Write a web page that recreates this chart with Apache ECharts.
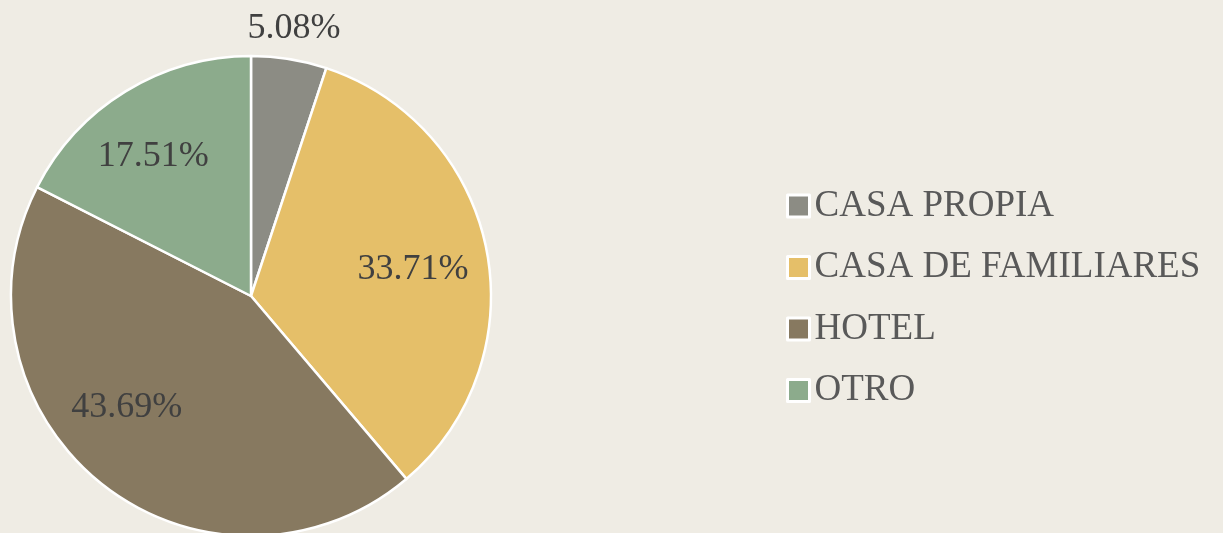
<!DOCTYPE html>
<html>
<head>
<meta charset="utf-8">
<script src="https://cdn.jsdelivr.net/npm/echarts@6/dist/echarts.min.js"></script>
<style>
  html, body { margin: 0; padding: 0; background: #efece4; }
  #chart { width: 1223px; height: 533px; }
</style>
</head>
<body>
<div id="chart"></div>
<script>
// datos
var categorias = ['CASA PROPIA', 'CASA DE FAMILIARES', 'HOTEL', 'OTRO'];
var porcentajes = [5.08, 33.71, 43.69, 17.51];
var colores = ['#8c8c84', '#e5bf69', '#877960', '#8cab8c'];

var fuente = '"Liberation Serif", "DejaVu Serif", serif';

// pequeños ajustes de las etiquetas internas (como en Excel)
var ajusteX = [0, -3, -20, -10];
var ajusteY = [0, 6, -20, 4];

var pieData = categorias.map(function (c, i) {
    return { name: c, value: porcentajes[i], itemStyle: { color: colores[i] } };
});

// series transparentes solo para colocar las etiquetas
function labelData(mostrar) {
    return categorias.map(function (c, i) {
        return {
            name: c,
            value: porcentajes[i],
            label: { show: mostrar(i) }
        };
    });
}

var labelStyle = {
    position: 'inside',
    formatter: function (p) { return p.value.toFixed(2) + '%'; },
    color: '#404040',
    fontFamily: fuente,
    fontSize: 36
};

var chart = echarts.init(document.getElementById('chart'));
chart.setOption({
    backgroundColor: '#efece4',
    animation: false,
    legend: {
        orient: 'vertical',
        left: 781,
        top: 179,
        itemWidth: 22,
        itemHeight: 22,
        itemGap: 17.5,
        icon: 'rect',
        itemStyle: { borderColor: '#ffffff', borderWidth: 3 },
        textStyle: { fontFamily: fuente, fontSize: 37, color: '#595959', lineHeight: 44 },
        data: categorias
    },
    series: [
        {
            type: 'pie',
            center: [251, 296],
            radius: [0, 240],
            startAngle: 90,
            clockwise: true,
            label: { show: false },
            labelLine: { show: false },
            itemStyle: { borderColor: '#ffffff', borderWidth: 2.5 },
            data: pieData
        },
        {
            type: 'pie',
            center: [251, 296],
            radius: [90, 240],
            startAngle: 90,
            silent: true,
            legendHoverLink: false,
            itemStyle: { color: 'rgba(0,0,0,0)' },
            label: labelStyle,
            labelLine: { show: false },
            labelLayout: function (p) {
                return { dx: ajusteX[p.dataIndex], dy: ajusteY[p.dataIndex] };
            },
            data: labelData(function (i) { return i !== 0; })
        },
        {
            type: 'pie',
            center: [251, 296],
            radius: [254, 282],
            startAngle: 90,
            silent: true,
            legendHoverLink: false,
            itemStyle: { color: 'rgba(0,0,0,0)' },
            label: labelStyle,
            labelLine: { show: false },
            data: labelData(function (i) { return i === 0; })
        }
    ]
});
</script>
</body>
</html>
